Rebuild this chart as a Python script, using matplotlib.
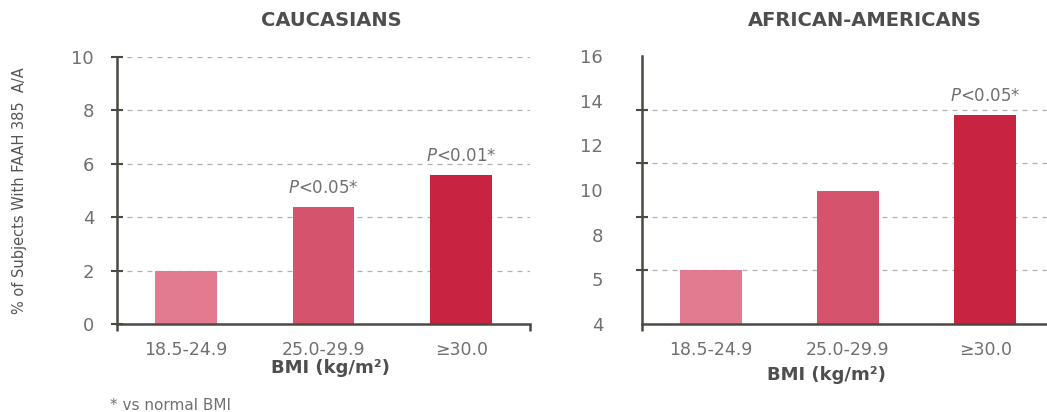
import numpy as np
import matplotlib
matplotlib.use("Agg")
import matplotlib.pyplot as plt

categories = ["18.5-24.9", "25.0-29.9", "≥30.0"]
cauc_values = [1.98, 4.39, 5.58]
afam_values = [6.42, 9.97, 13.38]
cauc_pvals = [None, "$P$<0.05*", "$P$<0.01*"]
afam_pvals = [None, None, "$P$<0.05*"]
cauc_ticks = [0, 2, 4, 6, 8, 10]
afam_label_pos = [4, 6, 8, 10, 12, 14, 16]
afam_tick_labels = ["4", "5", "8", "10", "12", "14", "16"]

bar_colors = ["#e27a90", "#d5536d", "#c8233f"]
spine_col = "#4b4a42"
grid_col = "#b0b0b0"
text_col = "#707070"
title_col = "#4e4e4e"

plt.rcParams['font.family'] = ['DejaVu Sans']
fig = plt.figure(figsize=(10.47, 4.12), dpi=100)
fig.patch.set_facecolor("white")

ax1 = fig.add_axes([117/1047, 88/412, 413/1047, 267/412])
ax2 = fig.add_axes([642/1047, 88/412, 405/1047, 268/412])

x = np.arange(len(categories))

def style(ax):
    for s in ["top", "right"]:
        ax.spines[s].set_visible(False)
    for s in ["left", "bottom"]:
        ax.spines[s].set_color(spine_col)
        ax.spines[s].set_linewidth(1.8)
    ax.set_axisbelow(True)
    ax.set_xticks(x)
    ax.set_xticklabels(categories, fontsize=12.5, color=text_col)
    ax.tick_params(axis="x", length=0, pad=12)

# Left panel
ax1.bar(x, cauc_values, width=0.45, color=bar_colors, zorder=2)
ax1.set_xlim(-0.5, 2.5)
ax1.set_ylim(0, 10)
ax1.set_yticks(cauc_ticks)
ax1.set_yticklabels([str(t) for t in cauc_ticks], fontsize=13, color=text_col)
ax1.tick_params(axis="y", direction="inout", length=9, width=1.5, color=spine_col, pad=12)
ax1.yaxis.grid(True, linestyle=(0, (4, 4)), color=grid_col, linewidth=0.9)
style(ax1)
ax1.set_xticks([-0.5, 2.5], minor=True)
ax1.tick_params(axis="x", which="minor", direction="out", length=5, width=1.8, color=spine_col)
for xi, v, p in zip(x, cauc_values, cauc_pvals):
    if p:
        ax1.annotate(p, (xi, v), xytext=(0, 7), textcoords="offset points",
                     ha="center", va="bottom", fontsize=12, color=text_col)
ax1.set_ylabel("% of Subjects With FAAH 385  A/A", fontsize=10.5, color="#555555",
               labelpad=32)

# Right panel
ax2.bar(x, afam_values, width=0.45, color=bar_colors, zorder=2)
ax2.set_xlim(-0.5, 2.45)
ax2.set_ylim(4, 16)
ax2.set_yticks(afam_label_pos)
ax2.set_yticklabels(afam_tick_labels, fontsize=13, color=text_col)
ax2.tick_params(axis="y", which="major", length=0, pad=28)
ax2.set_yticks(np.linspace(4, 16, 6), minor=True)
ax2.tick_params(axis="y", which="minor", direction="inout", length=9, width=1.5, color=spine_col)
ax2.yaxis.grid(True, which="minor", linestyle=(0, (4, 4)), color=grid_col, linewidth=0.9)
ax2.yaxis.grid(False, which="major")
style(ax2)
ax2.set_xticks([-0.5], minor=True)
ax2.tick_params(axis="x", which="minor", direction="out", length=5, width=1.8, color=spine_col)
for xi, v, p in zip(x, afam_values, afam_pvals):
    if p:
        ax2.annotate(p, (xi, v), xytext=(0, 7), textcoords="offset points",
                     ha="center", va="bottom", fontsize=12, color=text_col)

# Titles and axis labels
fig.text(331/1047, 1 - 20/412, "CAUCASIANS", ha="center", va="center",
         fontsize=14, fontweight="bold", color=title_col)
fig.text(865/1047, 1 - 20/412, "AFRICAN-AMERICANS", ha="center", va="center",
         fontsize=14, fontweight="bold", color=title_col)
fig.text(330/1047, 1 - 368/412, "BMI (kg/m²)", ha="center", va="center",
         fontsize=13, fontweight="bold", color=title_col)
fig.text(826/1047, 1 - 375/412, "BMI (kg/m²)", ha="center", va="center",
         fontsize=13, fontweight="bold", color=title_col)
fig.text(110/1047, 1 - 405/412, "* vs normal BMI", ha="left", va="center",
         fontsize=11, color=text_col)

fig.savefig("out.png", dpi=100, facecolor="white")
